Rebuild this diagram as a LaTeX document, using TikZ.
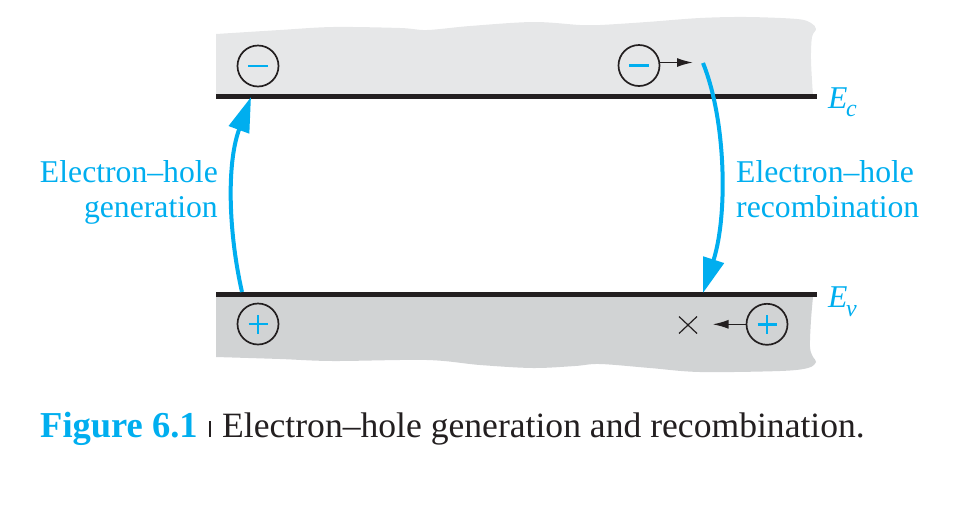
\documentclass[tikz,border=0pt]{standalone}
\usepackage{fontspec}
\setmainfont{Liberation Serif}
\usetikzlibrary{arrows.meta}
\definecolor{pcyan}{HTML}{00AEEF}
\definecolor{topgray}{HTML}{E6E7E8}
\definecolor{botgray}{HTML}{D1D3D4}
\definecolor{ink}{HTML}{231F20}
\tikzset{
  band line/.style={line width=5pt, draw=ink},
  carrier/.style={circle, draw=ink, line width=1.7pt, minimum size=41pt, inner sep=0pt},
  sign/.style={draw=pcyan, line width=2.5pt},
  transition/.style={draw=pcyan, line width=4pt, -{Triangle[length=35pt,width=21pt]}},
  drift/.style={draw=ink, line width=1.6pt, -{Latex[length=16pt,width=9pt]}},
  lbl/.style={text=pcyan, inner sep=0pt, font=\fontsize{31.7}{36}\selectfont},
  captext/.style={inner sep=0pt},
}
\begin{document}
\begin{tikzpicture}[x=1pt,y=-1pt]
\useasboundingbox (0,0) rectangle (956,507);
% conduction band region
\fill[topgray] (216,96) -- plot[smooth, tension=0.55] coordinates {(216,34) (280,30) (333,27) (400,28) (427,30) (470,26) (533,22) (580,25) (600,25) (647,22) (700,18) (747,17) (797,19) (811,23) (816,29) (812,37) (811,60) (813,96)} -- cycle;
% valence band region
\fill[botgray] (216,296) -- (813,296) -- plot[smooth, tension=0.55] coordinates {(813,297) (811,320) (810,347) (813,357) (816,362) (808,368) (780,371) (700,372) (650,368) (600,364) (575,366) (533,368) (480,365) (427,360) (333,361) (280,359) (216,357)} -- cycle;
% band edges
\coordinate (ecl) at (216,96.5);
\coordinate (ecr) at (816.5,96.5);
\coordinate (evl) at (216,294.5);
\coordinate (evr) at (816.5,294.5);
\draw[band line] (ecl) -- (ecr);
\draw[band line] (evl) -- (evr);
% carriers
\node[carrier] (n1) at (258,66) {};
\node[carrier] (n2) at (639,65.5) {};
\node[carrier] (p1) at (258,324) {};
\node[carrier] (p2) at (767,324.3) {};
\draw[sign] ([xshift=-10pt]n1.center) -- ([xshift=10pt]n1.center);
\draw[sign] ([xshift=-10pt]n2.center) -- ([xshift=10pt]n2.center);
\draw[sign] ([xshift=-9.5pt]p1.center) -- ([xshift=9.5pt]p1.center);
\draw[sign] ([yshift=-9.5pt]p1.center) -- ([yshift=9.5pt]p1.center);
\draw[sign] ([xshift=-9.5pt]p2.center) -- ([xshift=9.5pt]p2.center);
\draw[sign] ([yshift=-9.5pt]p2.center) -- ([yshift=9.5pt]p2.center);
% drift arrows
\coordinate (d1) at (693,62.5);
\draw[drift] (d1 -| n2.east) -- (d1);
\coordinate (d2) at (712.5,324.3);
\draw[drift] (p2.west) -- (d2);
% cross
\coordinate (x0) at (688,325);
\draw[ink, line width=1.2pt] ([shift={(-9pt,8.5pt)}]x0) -- ([shift={(9pt,-8.5pt)}]x0);
\draw[ink, line width=1.2pt] ([shift={(-9pt,-8.5pt)}]x0) -- ([shift={(9pt,8.5pt)}]x0);
% transitions
\coordinate (gbot) at (242,292);
\coordinate (gtop) at (251,97);
\draw[transition] (gbot) .. controls (229,235) and (226,165) .. (gtop);
\coordinate (rtop) at (703,63);
\coordinate (rbot) at (703,293);
\draw[transition] (rtop) .. controls (726,120) and (728,215) .. (rbot);
% labels
\node[lbl, anchor=base east] (g1) at (218,182) {Electron–hole};
\node[lbl, anchor=base east] (g2) at (218,217.5) {generation};
\node[lbl, anchor=base west] (r1) at (736,182) {Electron–hole};
\node[lbl, anchor=base west] (r2) at (736,217.5) {recombination};
\node[lbl, anchor=base west] (ec) at (828,108) {\itshape E\kern-1.5pt\raisebox{-8pt}{\fontsize{24}{24}\selectfont c}};
\node[lbl, anchor=base west] (ev) at (828,307) {\itshape E\kern-1.5pt\raisebox{-9pt}{\fontsize{24}{24}\selectfont v}};
% caption
\node[captext, anchor=base west, text=pcyan, font=\fontsize{36.5}{40}\selectfont\bfseries] (fig) at (40,437) {Figure 6.1};
\fill[ink] (209,421) rectangle (211.2,436.7);
\node[captext, anchor=base west, text=ink, font=\fontsize{35.6}{40}\selectfont] (capt) at (222,437) {Electron–hole generation and recombination.};
\end{tikzpicture}
\end{document}
